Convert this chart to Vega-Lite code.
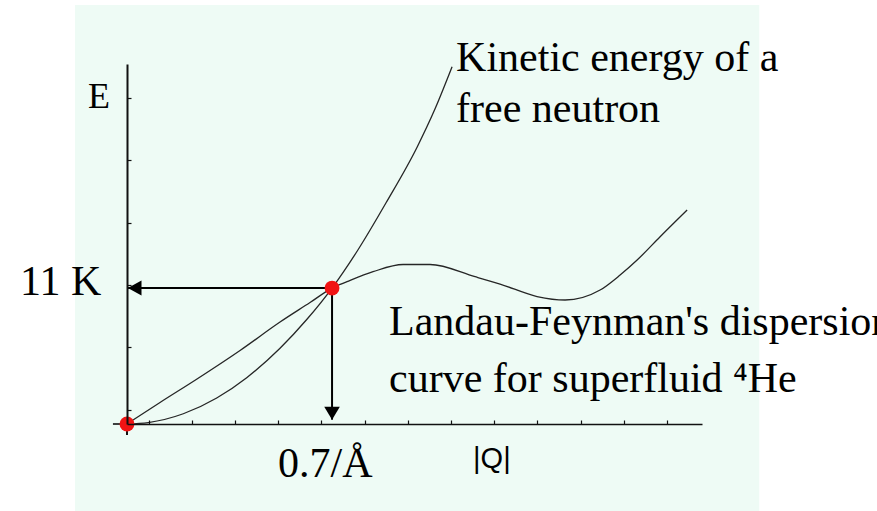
{
  "$schema": "https://vega.github.io/schema/vega-lite/v6.json",
  "autosize": {"type": "none"},
  "width": 575,
  "height": 360,
  "padding": {"left": 127, "top": 64, "right": 175, "bottom": 87},
  "background": "#ffffff",
  "config": {"view": {"stroke": null}},
  "datasets": {
    "bg": [{"x": -0.1776, "x2": 2.1584, "y": 33.9, "y2": -7.04}],
    "neutron": [
      {"q": 0, "e": 0}, {"q": 0.0727, "e": 0.119}, {"q": 0.1922, "e": 0.829}, {"q": 0.3063, "e": 2.106},
      {"q": 0.4087, "e": 3.75}, {"q": 0.5224, "e": 6.127}, {"q": 0.6136, "e": 8.452}, {"q": 0.7, "e": 11.0},
      {"q": 0.7888, "e": 14.1}, {"q": 0.8844, "e": 17.9}, {"q": 0.9903, "e": 22.4}, {"q": 1.0517, "e": 25.5},
      {"q": 1.1098, "e": 28.9}
    ],
    "landau": [
      {"q": 0, "e": 0}, {"q": 0.1127, "e": 1.739}, {"q": 0.239, "e": 3.641}, {"q": 0.3859, "e": 5.947},
      {"q": 0.5224, "e": 8.252}, {"q": 0.6249, "e": 9.83}, {"q": 0.7, "e": 11.0}, {"q": 0.7512, "e": 11.513},
      {"q": 0.84, "e": 12.322}, {"q": 0.9425, "e": 12.905}, {"q": 1.0346, "e": 12.905}, {"q": 1.1883, "e": 11.917},
      {"q": 1.2736, "e": 11.327}, {"q": 1.3999, "e": 10.316}, {"q": 1.4956, "e": 10.032}, {"q": 1.6151, "e": 10.841},
      {"q": 1.6834, "e": 12.055}, {"q": 1.7415, "e": 13.269}, {"q": 1.82, "e": 15.154}, {"q": 1.9122, "e": 17.314}
    ],
    "cross": [{"q": -0.048, "q2": 0, "e": 0}],
    "crossv": [{"q": 0, "e": 0, "e2": -0.9}],
    "dots": [{"q": 0, "e": 0}, {"q": 0.7, "e": 11.0}],
    "harrow": [{"q": 0.7, "e": 11.0, "q2": 0.003}],
    "varrow": [{"q": 0.7, "e": 11.0, "e2": 0.35}],
    "serif": [
      {"x": -0.1332, "y": 25.57, "t": "E", "s": "E"},
      {"x": -0.3654, "y": 10.437, "t": "11 K", "s": "L"},
      {"x": 0.5156, "y": -4.288, "t": "0.7/Å", "s": "L"},
      {"x": 1.1234, "y": 28.56, "t": "Kinetic energy of a", "s": "L"},
      {"x": 1.1234, "y": 24.43, "t": "free neutron", "s": "L"},
      {"x": 0.8946, "y": 7.2, "t": "Landau-Feynman's dispersion", "s": "L"},
      {"x": 0.8946, "y": 2.589, "t": "curve for superfluid ⁴He", "s": "L"}
    ],
    "sans": [{"x": 1.1815, "y": -3.56, "t": "|Q|"}]
  },
  "layer": [
    {
      "data": {"name": "bg"},
      "mark": {"type": "rect", "color": "#eefbf5"},
      "encoding": {
        "x": {"field": "x", "type": "quantitative", "scale": {"domain": [0, 1.963], "nice": false, "zero": false},
          "axis": {"orient": "bottom", "zindex": 1, "offset": 0, "domainColor": "#111", "domainWidth": 1.6, "tickColor": "#111", "tickSize": -4, "tickWidth": 1.2, "labels": false, "title": null, "grid": false,
            "values": [0.0738, 0.1475, 0.2213, 0.295, 0.3688, 0.4426, 0.5163, 0.5901, 0.6638, 0.7376, 0.8114, 0.8851, 0.9589, 1.0326, 1.1064, 1.1802, 1.2539, 1.3277, 1.4014, 1.4752, 1.549, 1.6227, 1.6965, 1.7702, 1.844, 1.9178]}},
        "x2": {"field": "x2"},
        "y": {"field": "y", "type": "quantitative", "scale": {"domain": [0, 29.13], "nice": false, "zero": false},
          "axis": {"orient": "left", "zindex": 1, "offset": 0, "domainColor": "#111", "domainWidth": 2, "tickColor": "#111", "tickSize": -4, "tickWidth": 1.2, "labels": false, "title": null, "grid": false,
            "values": [28.908, 27.646, 26.384, 25.122, 23.86, 22.597, 21.335, 20.073, 18.811, 17.549, 16.287, 15.025, 13.763, 12.501, 11.239, 9.977, 8.715, 7.453, 6.191, 4.929, 3.666, 2.404, 1.142]}},
        "y2": {"field": "y2"}
      }
    },
    {
      "data": {"name": "cross"},
      "mark": {"type": "rule", "color": "#111", "strokeWidth": 1.6},
      "encoding": {"x": {"field": "q", "type": "quantitative"}, "x2": {"field": "q2"}, "y": {"field": "e", "type": "quantitative"}}
    },
    {
      "data": {"name": "crossv"},
      "mark": {"type": "rule", "color": "#111", "strokeWidth": 2},
      "encoding": {"x": {"field": "q", "type": "quantitative"}, "y": {"field": "e", "type": "quantitative"}, "y2": {"field": "e2"}}
    },
    {
      "data": {"name": "neutron"},
      "mark": {"type": "line", "color": "#262626", "strokeWidth": 1.3, "interpolate": "monotone"},
      "encoding": {"x": {"field": "q", "type": "quantitative"}, "y": {"field": "e", "type": "quantitative"}}
    },
    {
      "data": {"name": "landau"},
      "mark": {"type": "line", "color": "#262626", "strokeWidth": 1.3, "interpolate": "monotone"},
      "encoding": {"x": {"field": "q", "type": "quantitative"}, "y": {"field": "e", "type": "quantitative"}}
    },
    {
      "data": {"name": "harrow"},
      "mark": {"type": "rule", "color": "#000", "strokeWidth": 2},
      "encoding": {"x": {"field": "q", "type": "quantitative"}, "x2": {"field": "q2"}, "y": {"field": "e", "type": "quantitative"}}
    },
    {
      "data": {"name": "harrow"},
      "mark": {"type": "point", "shape": "M0,0L2,-1.1L2,1.1Z", "filled": true, "color": "#000", "opacity": 1, "size": 185},
      "encoding": {"x": {"field": "q2", "type": "quantitative"}, "y": {"field": "e", "type": "quantitative"}}
    },
    {
      "data": {"name": "varrow"},
      "mark": {"type": "rule", "color": "#000", "strokeWidth": 2},
      "encoding": {"x": {"field": "q", "type": "quantitative"}, "y": {"field": "e", "type": "quantitative"}, "y2": {"field": "e2"}}
    },
    {
      "data": {"name": "varrow"},
      "mark": {"type": "point", "shape": "M0,0L-1.2,-2L1.2,-2Z", "filled": true, "color": "#000", "opacity": 1, "size": 169},
      "encoding": {"x": {"field": "q", "type": "quantitative"}, "y": {"field": "e2", "type": "quantitative"}}
    },
    {
      "data": {"name": "dots"},
      "mark": {"type": "circle", "color": "#f01414", "opacity": 1, "size": 220},
      "encoding": {"x": {"field": "q", "type": "quantitative"}, "y": {"field": "e", "type": "quantitative"}}
    },
    {
      "data": {"name": "serif"},
      "transform": [{"filter": "datum.s == 'L'"}],
      "mark": {"type": "text", "align": "left", "baseline": "alphabetic", "font": "Liberation Serif", "fontSize": 42, "color": "#000"},
      "encoding": {"x": {"field": "x", "type": "quantitative"}, "y": {"field": "y", "type": "quantitative"}, "text": {"field": "t"}}
    },
    {
      "data": {"name": "serif"},
      "transform": [{"filter": "datum.s == 'E'"}],
      "mark": {"type": "text", "align": "left", "baseline": "alphabetic", "font": "Liberation Serif", "fontSize": 36, "color": "#000"},
      "encoding": {"x": {"field": "x", "type": "quantitative"}, "y": {"field": "y", "type": "quantitative"}, "text": {"field": "t"}}
    },
    {
      "data": {"name": "sans"},
      "mark": {"type": "text", "align": "left", "baseline": "alphabetic", "font": "Liberation Sans", "fontSize": 29, "color": "#000"},
      "encoding": {"x": {"field": "x", "type": "quantitative"}, "y": {"field": "y", "type": "quantitative"}, "text": {"field": "t"}}
    }
  ]
}
